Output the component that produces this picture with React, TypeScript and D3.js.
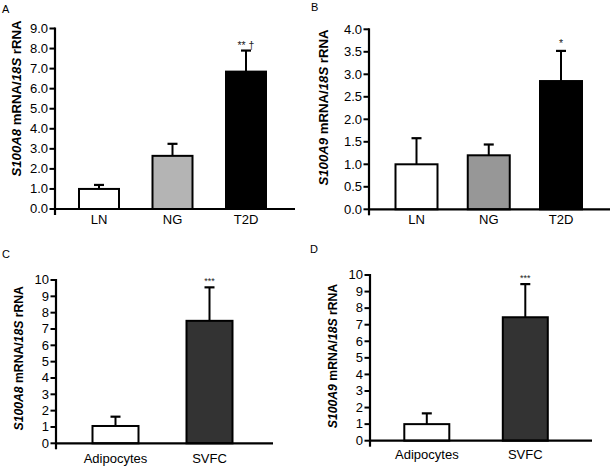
import React from "react";
import * as d3 from "d3";

// ---------- data ----------
const groupCategories = ["LN", "NG", "T2D"];
const s100a8GroupMeans = [1.0, 2.65, 6.85];
const s100a8GroupSem = [0.2, 0.6, 1.05];
const s100a8GroupSig = ["", "", "** \u2020"];
const s100a9GroupMeans = [1.0, 1.2, 2.85];
const s100a9GroupSem = [0.58, 0.24, 0.67];
const s100a9GroupSig = ["", "", "*"];

const fractionCategories = ["Adipocytes", "SVFC"];
const s100a8FractionMeans = [1.06, 7.5];
const s100a8FractionSem = [0.57, 2.05];
const s100a8FractionSig = ["", "***"];
const s100a9FractionMeans = [1.0, 7.45];
const s100a9FractionSem = [0.65, 2.0];
const s100a9FractionSig = ["", "***"];

const ticksA = [0, 1, 2, 3, 4, 5, 6, 7, 8, 9];
const ticksB = [0, 0.5, 1, 1.5, 2, 2.5, 3, 3.5, 4];
const ticksCD = [0, 1, 2, 3, 4, 5, 6, 7, 8, 9, 10];

const FONT = "'Liberation Sans', Arial, Helvetica, sans-serif";

type Panel = {
  letter: string;
  letterX: number;
  letterY: number;
  gene: string;
  cats: string[];
  means: number[];
  sems: number[];
  sig: string[];
  fills: string[];
  ticks: number[];
  tickFmt: string;
  domainMax: number;
  axisX: number;
  axisEnd: number;
  y0: number;
  yTop: number;
  c0: number;
  c1: number;
  barW: number;
  xLabelOff: number;
  labelCY: number;
  labelX: number;
  labelFs: number;
  sigFs: number;
  sigOff: number;
};

const panels: Panel[] = [
  {
    letter: "A", letterX: 2, letterY: 12.5, gene: "S100A8",
    cats: groupCategories, means: s100a8GroupMeans, sems: s100a8GroupSem, sig: s100a8GroupSig,
    fills: ["#ffffff", "#b4b4b4", "#000000"],
    ticks: ticksA, tickFmt: ".1f", domainMax: 9,
    axisX: 55, axisEnd: 295, y0: 209, yTop: 28.5,
    c0: 99, c1: 246, barW: 40, xLabelOff: 15,
    labelCY: 98.5, labelX: 20.5, labelFs: 13.2, sigFs: 10.5, sigOff: 1.5,
  },
  {
    letter: "B", letterX: 311, letterY: 11.3, gene: "S100A9",
    cats: groupCategories, means: s100a9GroupMeans, sems: s100a9GroupSem, sig: s100a9GroupSig,
    fills: ["#ffffff", "#979797", "#000000"],
    ticks: ticksB, tickFmt: ".1f", domainMax: 4,
    axisX: 369, axisEnd: 610, y0: 209.3, yTop: 29.3,
    c0: 416.5, c1: 561, barW: 42, xLabelOff: 15,
    labelCY: 107.5, labelX: 328, labelFs: 13.2, sigFs: 10.5, sigOff: 4,
  },
  {
    letter: "C", letterX: 2, letterY: 257.7, gene: "S100A8",
    cats: fractionCategories, means: s100a8FractionMeans, sems: s100a8FractionSem, sig: s100a8FractionSig,
    fills: ["#ffffff", "#333333"],
    ticks: ticksCD, tickFmt: "d", domainMax: 10,
    axisX: 56, axisEnd: 273, y0: 443.3, yTop: 280,
    c0: 115.5, c1: 209.5, barW: 46, xLabelOff: 19.4,
    labelCY: 358.3, labelX: 23, labelFs: 12.2, sigFs: 9, sigOff: 3.5,
  },
  {
    letter: "D", letterX: 310, letterY: 253.3, gene: "S100A9",
    cats: fractionCategories, means: s100a9FractionMeans, sems: s100a9FractionSem, sig: s100a9FractionSig,
    fills: ["#ffffff", "#333333"],
    ticks: ticksCD, tickFmt: "d", domainMax: 10,
    axisX: 370, axisEnd: 592, y0: 440.7, yTop: 275,
    c0: 426.8, c1: 525.3, barW: 45, xLabelOff: 18.6,
    labelCY: 356, labelX: 337, labelFs: 12.2, sigFs: 9, sigOff: 3.5,
  },
];

const SX = 1.06;
const TFS = 12.3;

function PanelView({ p }: { p: Panel }) {
  const y = d3.scaleLinear().domain([0, p.domainMax]).range([p.y0, p.yTop]);
  const x = d3.scalePoint<string>().domain(p.cats).range([p.c0, p.c1]);
  const fmt = d3.format(p.tickFmt);
  return (
    <g>
      <text x={p.letterX} y={p.letterY} fontSize={11} fontFamily={FONT} fill="#000">
        {p.letter}
      </text>
      {p.cats.map((c, i) => {
        const cx = x(c)!;
        const top = y(p.means[i]);
        const et = y(p.means[i] + p.sems[i]);
        return (
          <g key={c}>
            <line x1={cx} x2={cx} y1={top} y2={et} stroke="#000" strokeWidth={2} />
            <line x1={cx - 5} x2={cx + 5} y1={et} y2={et} stroke="#000" strokeWidth={2.2} />
            <rect
              x={cx - p.barW / 2}
              y={top}
              width={p.barW}
              height={p.y0 - top}
              fill={p.fills[i]}
              stroke="#000"
              strokeWidth={2}
            />
            {p.sig[i] ? (
              <text
                x={cx}
                y={et - p.sigOff}
                fontSize={p.sigFs}
                fontFamily={FONT}
                textAnchor="middle"
                fill="#222"
              >
                {p.sig[i]}
              </text>
            ) : null}
            <text
              transform={`translate(${cx},${p.y0 + p.xLabelOff}) scale(${SX},1)`}
              fontSize={TFS}
              fontFamily={FONT}
              textAnchor="middle"
              fill="#000"
            >
              {c}
            </text>
          </g>
        );
      })}
      <line x1={p.axisX} x2={p.axisEnd} y1={p.y0} y2={p.y0} stroke="#000" strokeWidth={2.2} />
      <line x1={p.axisX} x2={p.axisX} y1={y(p.domainMax) - 1} y2={p.y0 + 6} stroke="#000" strokeWidth={2.2} />
      {p.ticks.map((t) => (
        <g key={t}>
          <line x1={p.axisX - 5.5} x2={p.axisX} y1={y(t)} y2={y(t)} stroke="#000" strokeWidth={2} />
          <text
            transform={`translate(${p.axisX - 7},${y(t) + 4.3}) scale(${SX},1)`}
            fontSize={TFS}
            fontFamily={FONT}
            textAnchor="end"
            fill="#000"
          >
            {fmt(t)}
          </text>
        </g>
      ))}
      <text
        transform={`translate(${p.labelX},${p.labelCY}) rotate(-90)`}
        fontSize={p.labelFs}
        fontFamily={FONT}
        fontWeight="bold"
        textAnchor="middle"
        fill="#000"
      >
        <tspan fontStyle="italic">{p.gene}</tspan>
        <tspan> mRNA/</tspan>
        <tspan fontStyle="italic">18S</tspan>
        <tspan> rRNA</tspan>
      </text>
    </g>
  );
}

export default function App() {
  return (
    <svg
      width={611}
      height={466}
      viewBox="0 0 611 466"
      style={{ position: "absolute", left: 0, top: 0, display: "block", background: "#fff" }}
    >
      <rect x={0} y={0} width={611} height={466} fill="#fff" />
      {panels.map((p) => (
        <PanelView key={p.letter} p={p} />
      ))}
    </svg>
  );
}
